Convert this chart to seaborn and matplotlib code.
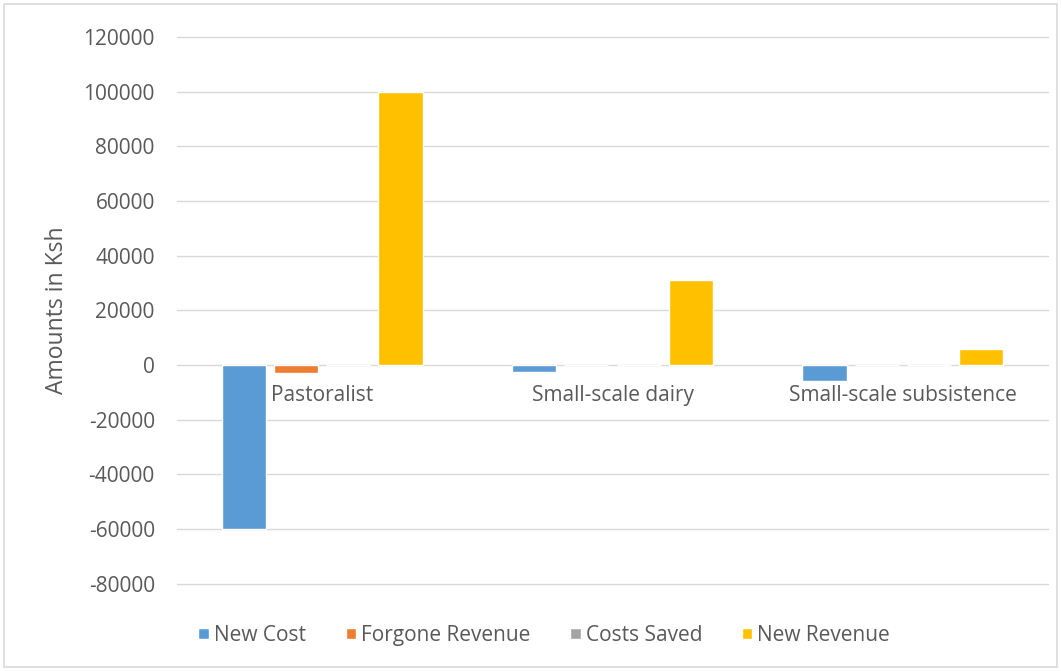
import matplotlib
matplotlib.use("Agg")
import matplotlib.pyplot as plt
import matplotlib.patches as mpatches
import seaborn as sns
import pandas as pd

categories = ["Pastoralist", "Small-scale dairy", "Small-scale subsistence"]
series = ["New Cost", "Forgone Revenue", "Costs Saved", "New Revenue"]
new_cost = [-60000, -2500, -6000]
forgone_revenue = [-3000, 0, 0]
costs_saved = [0, 0, 0]
new_revenue = [100000, 31000, 6000]
y_ticks = [-80000, -60000, -40000, -20000, 0, 20000, 40000, 60000, 80000, 100000, 120000]

colors = ["#5B9BD5", "#ED7D31", "#A5A5A5", "#FFC000"]

rows = []
for name, vals in zip(series, [new_cost, forgone_revenue, costs_saved, new_revenue]):
    for cat, v in zip(categories, vals):
        rows.append({"Category": cat, "Series": name, "Value": v})
df = pd.DataFrame(rows)

sns.set_style("white")
plt.rcParams["font.family"] = ["Open Sans", "DejaVu Sans"]
text_color = "#595959"
fs = 15

fig = plt.figure(figsize=(10.61, 6.71), dpi=100)
ax = fig.add_axes([0.1668, 0.130, 0.821, 0.815])

sns.barplot(data=df, x="Category", y="Value", hue="Series", hue_order=series,
            palette=colors, width=0.72, gap=0.155, ax=ax, legend=True,
            saturation=1, errorbar=None)

ax.set_ylim(-80000, 120000)
ax.set_yticks(y_ticks)
ax.set_yticklabels([str(t) for t in y_ticks], color=text_color, fontsize=fs)
ax.set_xlim(-0.5, 2.5)
ax.grid(axis="y", color="#D9D9D9", linewidth=1)
for gl in ax.get_ygridlines():
    gl.set_clip_on(False)
ax.set_axisbelow(True)
for s in ax.spines.values():
    s.set_visible(False)
ax.tick_params(axis="both", length=0)
ax.tick_params(axis="y", pad=16)

# category labels sit just under the zero line
ax.set_xticks([])
ax.set_xlabel("")
for i, cat in enumerate(categories):
    ax.text(i, -11000, cat, ha="center", va="center", fontsize=fs, color=text_color)

ax.set_ylabel("Amounts in Ksh", fontsize=16.5, color=text_color, labelpad=10)

handles, labels = ax.get_legend_handles_labels()
ax.get_legend().remove()
fig.legend(handles, labels, loc="center", bbox_to_anchor=(0.513, 0.053), ncol=4,
           frameon=False, fontsize=fs, handlelength=0.5, handleheight=0.5,
           handletextpad=0.25, columnspacing=1.9, labelcolor=text_color)

fig.patches.append(mpatches.Rectangle((0.004, 0.006), 0.992, 0.988, transform=fig.transFigure,
                                      fill=False, edgecolor="#D9D9D9", linewidth=1.2))

fig.savefig("out.png", dpi=100)
